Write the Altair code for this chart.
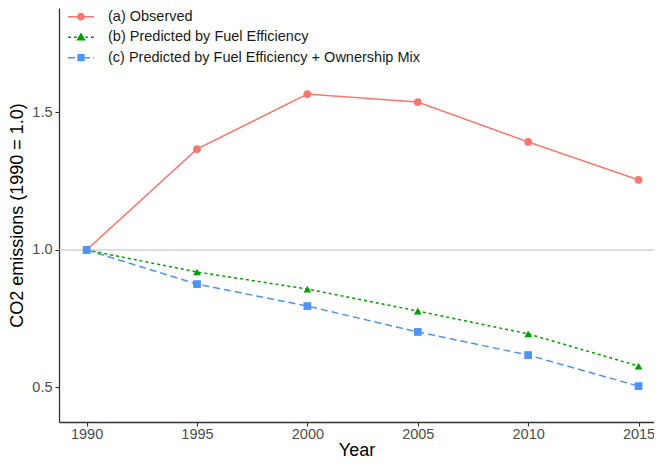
import altair as alt
import pandas as pd

years = [1990, 1995, 2000, 2005, 2010, 2015]
observed = [1.0, 1.367, 1.567, 1.538, 1.393, 1.255]
fuel_eff = [1.0, 0.920, 0.858, 0.778, 0.695, 0.578]
fuel_mix = [1.0, 0.876, 0.796, 0.702, 0.618, 0.505]

series_names = [
    "(a) Observed",
    "(b) Predicted by Fuel Efficiency",
    "(c) Predicted by Fuel Efficiency + Ownership Mix",
]
colors = ["#F8766D", "#00A000", "#4D94F5"]
dashes = [[1, 0], [3, 3], [7, 4]]
shapes = ["circle", "triangle-up", "square"]


def seg(a, b, h=0.058):
    return f"M{a},{-h}H{b}V{h}H{a}Z"


# legend keys: a short line sample (drawn as thin filled bars) with the marker on top
legend_shapes = [
    seg(-1, -0.28) + seg(0.28, 1) + "M-0.3,0A0.3,0.3 0 1 1 0.3,0A0.3,0.3 0 1 1 -0.3,0Z",
    seg(-1, -0.77) + seg(-0.54, -0.33) + seg(0.33, 0.54) + seg(0.77, 1)
    + "M0,-0.36L0.36,0.26L-0.36,0.26Z",
    seg(-1, -0.46) + seg(0.28, 0.7) + seg(0.92, 1) + "M-0.28,-0.28H0.28V0.28H-0.28Z",
]
ref_level = [1.0]

rows = []
for name, vals in zip(series_names, [observed, fuel_eff, fuel_mix]):
    for yr, v in zip(years, vals):
        rows.append({"Year": yr, "value": v, "series": name})
df = pd.DataFrame(rows)

FONT = "Liberation Sans"
xscale = alt.Scale(domain=[1988.75, 2015.70], nice=False, zero=False)
yscale = alt.Scale(domain=[0.3745, 1.88], nice=False, zero=False)

xenc = alt.X("Year:Q", scale=xscale, title="Year",
             axis=alt.Axis(values=years, format="d"))
yenc = alt.Y("value:Q", scale=yscale, title="CO2 emissions (1990 = 1.0)",
             axis=alt.Axis(values=[0.5, 1.0, 1.5], format=".1f"))

color_enc = alt.Color("series:N", scale=alt.Scale(domain=series_names, range=colors), legend=None)

base = alt.Chart(df)

rule = alt.Chart(pd.DataFrame({"ref": ref_level})).mark_rule(
    color="#BEBEBE", strokeWidth=1.1
).encode(y=alt.Y("ref:Q", scale=yscale))

line_layers = []
point_layers = []
legend_layers = []
for i, (name, shp, dsh, col, lshp) in enumerate(
        zip(series_names, shapes, dashes, colors, legend_shapes)):
    sub = base.transform_filter(alt.datum.series == name)
    line_layers.append(
        sub.mark_line(strokeWidth=1.5, strokeDash=dsh)
        .encode(x=xenc, y=yenc, color=color_enc, order=alt.Order("Year:Q"))
    )
    point_layers.append(
        sub.mark_point(filled=True, opacity=1, size=60, shape=shp)
        .encode(x=xenc, y=yenc, color=color_enc)
    )
    leg = alt.Legend(
        title=None, orient="none", legendX=8, legendY=-5.3 + 20.5 * i,
        symbolSize=676, symbolFillColor=col, symbolOpacity=1,
        labelFontSize=14.5, labelFont=FONT, labelColor="#1A1A1A", labelOffset=13,
        rowPadding=0, padding=0, labelLimit=500,
    )
    # legend-only layer: all rows filtered out, the legend comes from the scale domain
    legend_layers.append(
        base.transform_filter("false")
        .mark_point(filled=True, fill=col, opacity=1)
        .encode(
            x=xenc, y=yenc,
            shape=alt.Shape("series:N", scale=alt.Scale(domain=[name], range=[lshp]),
                            legend=leg),
        )
    )

chart = alt.layer(rule, *line_layers, *point_layers, *legend_layers).resolve_scale(
    shape="independent"
).properties(
    width=595, height=414,
    autosize=alt.AutoSizeParams(type="none"),
    padding={"left": 51, "top": 0, "right": 0, "bottom": 38},
).configure_view(stroke=None).configure_axis(
    grid=False,
    labelFont=FONT, titleFont=FONT,
    labelFontSize=14.5, labelColor="#4D4D4D",
    titleFontSize=18, titleFontWeight="normal", titleColor="#000000",
    domainColor="#333333", domainWidth=1.3,
    tickColor="#333333", tickSize=4, tickWidth=1.1,
).configure_axisX(labelPadding=1, titlePadding=1).configure_axisY(
    labelPadding=3, titlePadding=5
)

chart.save("out.html", embed_options={"renderer": "svg", "actions": False})
